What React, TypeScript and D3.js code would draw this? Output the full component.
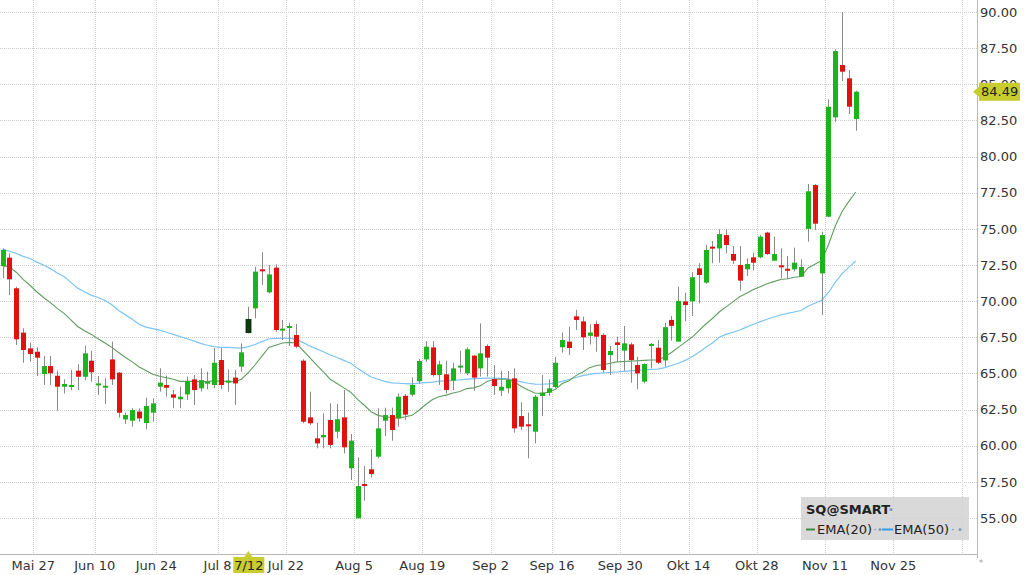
import React from "react";
import * as d3 from "d3";

// ---------- data ----------
const firstDay = "2024-05-20";
const lastSlotDay = "2024-12-13";
const holidays = ["2024-05-27", "2024-06-19", "2024-07-04", "2024-09-02"];
const lastTradingDay = "2024-11-15";

const opens = [
  72.43, 73.01, 70.89, 67.82, 66.73, 66.5, 64.96, 65.51, 64.84, 64.08,
  64.08, 65.19, 64.77, 65.88, 64.22, 64.04, 65.97, 65.05, 61.82, 61.73,
  62.36, 61.57, 62.29, 64.08, 64.2, 63.55, 63.21, 63.55, 64.59, 63.97,
  64.36, 64.2, 65.93, 64.41, 64.71, 65.47, 67.82, 69.5, 72.2, 70.61,
  72.32, 68.0, 68.2, 67.66, 65.88, 61.96, 60.51, 60.58, 61.78, 60.97,
  61.96, 58.44, 54.98, 57.35, 58.37, 59.24, 61.73, 62.12, 61.89, 63.45,
  63.53, 64.46, 65.97, 66.8, 64.89, 64.94, 64.5, 65.47, 65.01, 66.23,
  65.35, 66.9, 64.61, 63.81, 63.97, 64.66, 62.05, 61.48, 60.97, 63.44,
  63.67, 64.06, 66.81, 67.2, 68.95, 68.6, 67.6, 68.42, 67.66, 66.27,
  67.15, 66.58, 67.01, 65.58, 64.43, 66.9, 66.78, 65.9, 68.7, 67.2,
  69.98, 69.98, 72.27, 71.28, 73.77, 73.65, 74.57, 73.26, 72.5, 72.2,
  73.03, 73.03, 74.74, 72.8, 72.48, 72.24, 72.2, 71.69, 75.0, 78.03,
  71.92, 75.84, 82.71, 86.33, 85.41, 82.6,
];
const highs = [
  73.65, 73.31, 71.0, 68.12, 67.13, 66.8, 66.2, 66.2, 65.19, 64.59,
  65.24, 65.63, 66.92, 66.57, 64.82, 64.66, 67.2, 65.1, 62.28, 62.59,
  62.59, 63.32, 63.28, 65.35, 64.85, 63.85, 64.08, 64.78, 64.89, 65.35,
  65.12, 66.74, 66.74, 65.28, 65.24, 67.08, 69.62, 72.38, 73.38, 72.5,
  72.55, 68.7, 68.51, 68.42, 65.98, 63.74, 61.59, 62.24, 62.93, 62.89,
  63.85, 60.81, 59.2, 58.6, 59.75, 62.59, 62.63, 62.63, 63.62, 63.58,
  64.72, 66.0, 67.24, 67.24, 65.88, 65.88, 65.74, 66.57, 66.8, 66.27,
  68.46, 67.01, 65.58, 65.19, 65.17, 65.35, 63.0, 62.3, 63.51, 64.89,
  64.6, 66.15, 67.83, 68.23, 69.4, 68.93, 68.4, 68.65, 67.77, 66.9,
  67.54, 68.28, 67.13, 66.16, 65.7, 67.1, 67.31, 68.51, 68.97, 71.0,
  70.59, 72.0, 72.62, 73.9, 74.16, 74.97, 74.97, 73.81, 73.81, 72.96,
  73.35, 74.57, 74.8, 74.46, 73.65, 73.12, 73.7, 72.89, 78.1, 78.1,
  74.8, 83.96, 87.42, 90.0, 85.99, 84.56,
];
const lows = [
  71.58, 70.42, 66.97, 65.74, 65.81, 64.82, 64.2, 64.2, 62.42, 63.62,
  63.85, 63.85, 64.54, 64.43, 63.51, 62.9, 64.2, 61.95, 61.5, 61.32,
  61.66, 61.13, 61.66, 63.74, 63.39, 62.59, 62.59, 63.16, 62.82, 63.74,
  63.9, 63.97, 63.9, 63.74, 62.82, 65.12, 67.77, 68.81, 71.12, 70.54,
  67.89, 67.31, 66.9, 66.74, 61.55, 61.43, 59.82, 59.82, 59.82, 60.51,
  59.47, 57.63, 54.98, 56.2, 57.81, 59.13, 60.67, 60.35, 61.32, 61.78,
  63.4, 64.29, 65.8, 64.78, 64.2, 63.62, 63.85, 65.05, 64.89, 63.81,
  64.78, 64.78, 63.51, 63.44, 63.62, 60.9, 61.09, 59.13, 60.16, 62.05,
  63.45, 63.97, 66.44, 66.27, 68.01, 66.62, 67.0, 66.5, 65.05, 64.89,
  65.81, 65.19, 64.36, 63.9, 64.31, 65.35, 65.65, 65.47, 67.27, 67.2,
  68.6, 68.97, 69.85, 71.2, 72.62, 72.66, 73.31, 72.57, 70.72, 71.74,
  72.11, 72.96, 73.19, 72.8, 71.58, 71.51, 72.06, 71.67, 74.11, 74.92,
  69.04, 75.8, 82.41, 85.23, 82.94, 81.79,
];
const closes = [
  73.54, 71.51, 67.36, 66.62, 66.34, 66.09, 65.51, 65.01, 64.08, 64.27,
  64.2, 64.77, 66.39, 65.08, 64.31, 64.15, 64.59, 62.28, 62.12, 62.47,
  61.89, 62.75, 62.93, 64.36, 64.01, 63.32, 63.39, 64.48, 63.85, 64.54,
  64.43, 65.74, 64.2, 64.5, 64.31, 66.46, 68.74, 72.04, 72.09, 71.85,
  68.0, 68.1, 68.28, 66.85, 61.66, 61.55, 60.16, 60.74, 60.05, 61.83,
  59.89, 60.35, 57.21, 57.24, 58.04, 61.2, 62.12, 61.09, 63.39, 62.15,
  64.2, 65.86, 66.85, 64.89, 65.63, 63.85, 65.35, 65.54, 66.67, 64.71,
  66.39, 66.09, 64.13, 64.08, 64.55, 61.2, 61.32, 61.37, 63.39, 63.67,
  63.97, 65.74, 67.31, 66.76, 68.7, 67.5, 67.83, 67.54, 65.24, 66.55,
  66.97, 67.08, 65.93, 65.0, 65.65, 67.04, 65.74, 68.2, 68.29, 70.02,
  69.73, 71.65, 71.81, 73.54, 73.68, 74.64, 73.88, 72.8, 71.42, 72.57,
  72.66, 74.46, 73.26, 73.26, 72.34, 72.18, 72.66, 72.36, 77.6, 75.36,
  74.57, 83.45, 87.3, 85.87, 83.45, 84.49,
];
const ema20 = [
  72.43, 72.38, 72.0, 71.5, 71.1, 70.65, 70.25, 69.9, 69.5, 69.15,
  68.7, 68.25, 67.95, 67.7, 67.4, 67.1, 66.8, 66.45, 66.1, 65.8,
  65.45, 65.2, 64.95, 64.8, 64.7, 64.6, 64.45, 64.45, 64.45, 64.43,
  64.43, 64.5, 64.45, 64.45, 64.42, 64.6, 65.05, 65.6, 66.2, 66.8,
  66.95, 67.1, 67.15, 67.1, 66.6, 66.1, 65.6, 65.1, 64.6, 64.3,
  64.0, 63.7, 63.2, 62.8, 62.35, 62.1, 62.0, 61.95, 61.9, 62.0,
  62.1, 62.45, 62.85, 63.2, 63.4, 63.5, 63.65, 63.75, 63.95, 64.0,
  64.15, 64.45, 64.6, 64.6, 64.6, 64.4, 64.1, 63.85, 63.65, 63.62,
  63.7, 63.9, 64.3, 64.5, 64.85, 65.1, 65.4, 65.55, 65.6, 65.7,
  65.8, 65.82, 65.85, 65.88, 65.9, 65.93, 65.93, 66.15, 66.45, 66.8,
  67.15, 67.5, 67.95, 68.4, 68.8, 69.25, 69.6, 69.95, 70.3, 70.55,
  70.8, 71.0, 71.2, 71.35, 71.5, 71.55, 71.65, 71.7, 72.3, 72.55,
  72.8, 73.9, 75.2, 76.2, 76.9, 77.55,
];
const ema50 = [
  73.6, 73.45, 73.3, 73.1, 72.95, 72.7, 72.5, 72.25, 71.95, 71.7,
  71.3, 70.9, 70.65, 70.4, 70.25, 70.05, 69.75, 69.35, 69.05, 68.75,
  68.4, 68.2, 68.1, 68.0, 67.85, 67.7, 67.55, 67.4, 67.25, 67.08,
  66.95, 66.85, 66.8, 66.8, 66.77, 66.75, 66.85, 67.0, 67.2, 67.38,
  67.42, 67.43, 67.43, 67.35, 67.15, 66.9, 66.7, 66.5, 66.27, 66.1,
  65.9, 65.7, 65.35, 65.05, 64.75, 64.6, 64.45, 64.35, 64.32, 64.3,
  64.28, 64.33, 64.36, 64.4, 64.47, 64.5, 64.53, 64.55, 64.6, 64.63,
  64.66, 64.67, 64.67, 64.66, 64.62, 64.52, 64.42, 64.32, 64.26, 64.25,
  64.28, 64.35, 64.45, 64.58, 64.72, 64.85, 64.93, 65.0, 65.03, 65.07,
  65.1, 65.14, 65.18, 65.22, 65.25, 65.28, 65.3, 65.4, 65.55, 65.7,
  65.9, 66.15, 66.45, 66.8, 67.1, 67.5, 67.7, 67.85, 68.0, 68.2,
  68.4, 68.58, 68.75, 68.9, 69.04, 69.15, 69.25, 69.35, 69.65, 69.85,
  70.05, 70.6, 71.3, 71.9, 72.35, 72.78,
];

const tickDates = [
  "2024-05-27", "2024-06-10", "2024-06-24", "2024-07-08", "2024-07-22",
  "2024-08-05", "2024-08-19", "2024-09-02", "2024-09-16", "2024-09-30",
  "2024-10-14", "2024-10-28", "2024-11-11", "2024-11-25", "2024-12-09",
];
const tickLabels = [
  "Mai 27", "Jun 10", "Jun 24", "Jul 8", "Jul 22", "Aug 5", "Aug 19",
  "Sep 2", "Sep 16", "Sep 30", "Okt 14", "Okt 28", "Nov 11", "Nov 25", "",
];
const yTicks = [55, 57.5, 60, 62.5, 65, 67.5, 70, 72.5, 75, 77.5, 80, 82.5, 85, 87.5, 90];
const hoverDate = "2024-07-12";
const hoverLabel = "7/12";
const symbol = "SQ@SMART";
const lastPrice = 84.49;

// ---------- helpers ----------
const iso = (d: Date) => d.toISOString().slice(0, 10);
function buildSlots(): string[] {
  const out: string[] = [];
  const d = new Date(firstDay + "T00:00:00Z");
  const end = new Date(lastSlotDay + "T00:00:00Z");
  while (d <= end) {
    const wd = d.getUTCDay();
    const s = iso(d);
    if (wd !== 0 && wd !== 6) {
      if (!(s <= lastTradingDay && holidays.includes(s))) out.push(s);
    }
    d.setUTCDate(d.getUTCDate() + 1);
  }
  return out;
}

const W = 1024;
const H = 575;
const plotRight = 977;
const plotBottom = 554;
const FONT = "'DejaVu Sans', Verdana, sans-serif";

export default function App() {
  const slots = buildSlots();
  const slotW = 6.825;
  const x = d3
    .scaleBand<string>()
    .domain(slots)
    .range([-0.8, -0.8 + slots.length * slotW])
    .padding(0);
  const bw = x.bandwidth();
  const cx = (i: number) => (x(slots[i]) as number) + bw / 2;
  const y = d3.scaleLinear().domain([55, 90]).range([518, 12]);

  const gridX = tickDates.map((t) => {
    const s = slots.find((d) => d >= t) as string;
    return x(s) as number;
  });

  const n = closes.length;
  const idx = d3.range(n);
  const line20 = d3
    .line<number>()
    .x((i) => cx(i))
    .y((i) => y(ema20[i]));
  const line50 = d3
    .line<number>()
    .x((i) => cx(i))
    .y((i) => y(ema50[i]));

  const hoverIdx = slots.indexOf(hoverDate);
  const hx = cx(hoverIdx);
  const py = y(lastPrice);

  return (
    <svg
      width={W}
      height={H}
      style={{ position: "absolute", left: 0, top: 0, background: "#fff" }}
      fontFamily={FONT}
    >
      <defs>
        <clipPath id="plot">
          <rect x={0} y={0} width={plotRight} height={plotBottom} />
        </clipPath>
      </defs>
      {/* grid */}
      <g stroke="#cfcfcf" strokeWidth={1} strokeDasharray="1,1" shapeRendering="crispEdges">
        {yTicks.map((t) => (
          <line key={"gy" + t} x1={0} x2={plotRight} y1={Math.round(y(t)) + 0.5} y2={Math.round(y(t)) + 0.5} />
        ))}
        {gridX.map((gx, i) => (
          <line key={"gx" + i} x1={Math.round(gx) + 0.5} x2={Math.round(gx) + 0.5} y1={0} y2={plotBottom} />
        ))}
      </g>
      {/* axes */}
      <line x1={0} x2={plotRight} y1={plotBottom + 0.5} y2={plotBottom + 0.5} stroke="#b8b8b8" />
      <line x1={plotRight + 0.5} x2={plotRight + 0.5} y1={0} y2={plotBottom + 4} stroke="#b8b8b8" />
      <text x={979} y={566} fontSize={8} fill="#999">*</text>

      <g clipPath="url(#plot)">
        {/* EMA lines */}
        <path d={line50(idx) || ""} fill="none" stroke="#7cc4f4" strokeWidth={1.2} />
        <path d={line20(idx) || ""} fill="none" stroke="#5f9f5f" strokeWidth={1.1} />
        {/* candles */}
        {idx.map((i) => {
          const up = closes[i] >= opens[i];
          const hov = i === hoverIdx;
          const fill = hov ? "#0e3d0e" : up ? "#1cb41c" : "#e0110f";
          const top = y(Math.max(opens[i], closes[i]));
          const bot = y(Math.min(opens[i], closes[i]));
          const h = Math.max(2, bot - top);
          const c = cx(i);
          return (
            <g key={"c" + i}>
              <line x1={Math.round(c) + 0.5} x2={Math.round(c) + 0.5} y1={y(highs[i])} y2={y(lows[i])} stroke="#8a8a8a" strokeWidth={1} />
              <rect
                x={Math.round(c) - 2}
                y={top}
                width={5}
                height={h}
                fill={fill}
                stroke={hov ? "#061f06" : "none"}
                strokeWidth={hov ? 0.8 : 0}
              />
            </g>
          );
        })}
      </g>

      {/* y labels */}
      <g fontSize={13} fill="#333">
        {yTicks.map((t) => (
          <text key={"yl" + t} x={980} y={y(t)} dy="0.36em">
            {t.toFixed(2)}
          </text>
        ))}
      </g>
      {/* x labels */}
      <g fontSize={13} fill="#333" textAnchor="middle">
        {tickLabels.map((l, i) =>
          l ? (
            <text key={"xl" + i} x={gridX[i]} y={570}>
              {l}
            </text>
          ) : null
        )}
      </g>

      {/* hover date label */}
      <path
        d={`M${hx - 15},557 L${hx - 4},557 L${hx},551 L${hx + 4},557 L${hx + 16},557 L${hx + 16},573 L${hx - 15},573 Z`}
        fill="#c9cc2e"
      />
      <text x={hx + 0.5} y={570} fontSize={13} fill="#222" textAnchor="middle">
        {hoverLabel}
      </text>

      {/* last price label */}
      <path
        d={`M973,${py} L979,${py - 5} L979,${py - 9} L1020,${py - 9} L1020,${py + 9} L979,${py + 9} L979,${py + 5} Z`}
        fill="#c9cc2e"
      />
      <text x={981} y={py} dy="0.36em" fontSize={13} fill="#222">
        {lastPrice.toFixed(2)}
      </text>

      {/* legend */}
      <rect x={801} y={497} width={168} height={43} fill="#d2d2d2" opacity={0.85} />
      <text x={806} y={514} fontSize={13} fontWeight="bold" fill="#222">
        {symbol}
      </text>
      <circle cx={891} cy={509.5} r={1.6} fill="#7d9cc4" />
      <line x1={806} x2={815} y1={529.5} y2={529.5} stroke="#3d8c3d" strokeWidth={2} />
      <text x={817} y={534} fontSize={13} fill="#222">EMA(20)</text>
      <line x1={874} x2={876} y1={530} y2={529} stroke="#6a9fd8" strokeWidth={1} />
      <circle cx={880} cy={529.5} r={1.5} fill="#7d9cc4" />
      <line x1={882} x2={893} y1={529.5} y2={529.5} stroke="#2f9cf0" strokeWidth={2} />
      <text x={894} y={534} fontSize={13} fill="#222">EMA(50)</text>
      <line x1={952} x2={954} y1={530} y2={529} stroke="#6a9fd8" strokeWidth={1} />
      <circle cx={960} cy={529.5} r={1.5} fill="#7d9cc4" />
    </svg>
  );
}
